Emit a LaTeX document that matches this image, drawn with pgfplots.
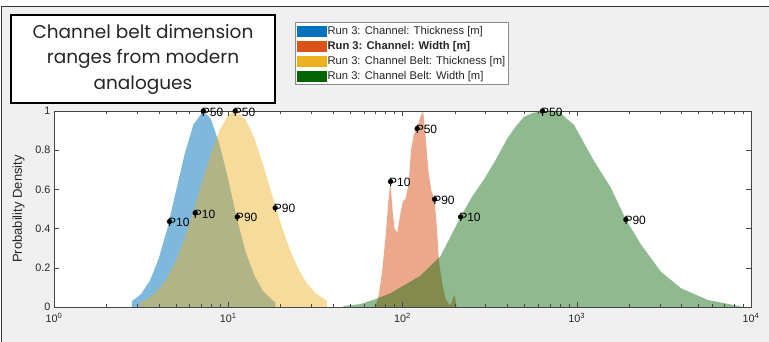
\documentclass[border=0pt]{standalone}
\usepackage{pgfplots}
\pgfplotsset{compat=1.18}
\usepackage{fontspec}
\setmainfont{Liberation Sans}
\newfontfamily\titlefont{Poppins}
\definecolor{mblue}{RGB}{0,114,189}
\definecolor{morange}{RGB}{217,83,25}
\definecolor{myellow}{RGB}{237,177,32}
\definecolor{mgreen}{RGB}{0,100,0}
\definecolor{figbg}{RGB}{240,240,240}
\definecolor{axcol}{RGB}{70,70,70}
\begin{document}
\begin{tikzpicture}
\useasboundingbox (0pt,0pt) rectangle (769pt,342pt);
\fill[white] (0pt,0pt) rectangle (769pt,342pt);
\fill[figbg] (1.5pt,0pt) rectangle (769pt,335pt);
\draw[black!80, line width=1.3pt] (1.2pt,0pt) -- (1.2pt,335.3pt) -- (769pt,335.3pt);
\begin{axis}[
  at={(54pt,35pt)}, anchor=south west,
  scale only axis, width=697pt, height=196pt,
  xmode=log, xmin=1, xmax=10000, ymin=0, ymax=1,
  xtick={1,10,100,1000,10000},
  xticklabels={10\textsuperscript{0},10\textsuperscript{1},10\textsuperscript{2},10\textsuperscript{3},10\textsuperscript{4}},
  ytick={0,0.2,0.4,0.6,0.8,1},
  yticklabels={0,0.2,0.4,0.6,0.8,1},
  ticklabel style={font=\fontsize{10.8}{12}\selectfont, text=black!85},
  xticklabel style={yshift=-3pt},
  major tick length=5pt, minor tick length=3pt,
  axis line style={axcol, line width=0.6pt},
  every tick/.style={axcol, line width=0.5pt},
  axis background/.style={fill=white},
  axis on top, clip=false,
  ylabel={Probability Density},
  ylabel style={font=\fontsize{13}{14}\selectfont, text=black!85, at={(axis description cs:-0.037,0.5)}, anchor=south},
  legend style={at={(0.3458,1.454)}, anchor=north west, draw=black!45, fill=white,
    font=\fontsize{11.2}{12}\selectfont, text=black!85, inner xsep=1.5pt, inner ysep=1pt,
    nodes={inner xsep=1.5pt, inner ysep=2.7pt},
    legend cell align=left},
]
\addlegendimage{legend image code/.code={\fill[mblue] (0pt,-5pt) rectangle (29pt,5pt);}}
\addlegendentry{Run 3: Channel: Thickness [m]}
\addlegendimage{legend image code/.code={\fill[morange] (0pt,-5pt) rectangle (29pt,5pt);}}
\addlegendentry{\textbf{Run 3: Channel: Width [m]}}
\addlegendimage{legend image code/.code={\fill[myellow] (0pt,-5pt) rectangle (29pt,5pt);}}
\addlegendentry{Run 3: Channel Belt: Thickness [m]}
\addlegendimage{legend image code/.code={\fill[mgreen] (0pt,-5pt) rectangle (29pt,5pt);}}
\addlegendentry{Run 3: Channel Belt: Width [m]}

% Channel thickness
\addplot[fill=mblue, fill opacity=0.5, draw=none, forget plot] table {
x y
2.80 0
2.80 0.03
3.16 0.066
3.55 0.134
3.98 0.244
4.47 0.40
5.01 0.59
5.62 0.78
6.31 0.93
7.19 1.00
7.94 0.96
8.91 0.83
10.0 0.65
11.22 0.45
12.59 0.28
14.13 0.16
15.85 0.081
17.78 0.037
18.62 0.025
18.62 0
} \closedcycle;

% Channel width
\addplot[fill=morange, fill opacity=0.5, draw=none, forget plot] table {
x y
70.0 0
73.0 0.06
76.4 0.18
79.8 0.35
83.2 0.55
85.3 0.64
87.6 0.50
89.9 0.40
93.3 0.38
96.1 0.45
100.5 0.54
104.0 0.55
108.2 0.62
112.0 0.80
116.0 0.88
121.3 0.91
126.8 0.97
131.5 1.00
135.6 0.87
141.0 0.69
146.8 0.59
152.8 0.55
157.0 0.42
162.0 0.23
170.0 0.11
177.0 0.04
186.0 0.01
191.0 0.02
196.0 0.05
199.1 0.06
202.0 0.03
204.2 0
} \closedcycle;

% Channel belt thickness
\addplot[fill=myellow, fill opacity=0.45, draw=none, forget plot] table {
x y
3.12 0
3.12 0.024
3.55 0.050
3.98 0.089
4.47 0.149
5.01 0.236
5.62 0.35
6.31 0.487
7.08 0.637
7.94 0.78
8.91 0.90
10.0 0.98
10.96 1.00
12.59 0.956
14.13 0.86
15.85 0.726
17.78 0.576
19.95 0.43
22.39 0.30
25.12 0.198
28.18 0.122
31.62 0.071
36.9 0.031
36.9 0
} \closedcycle;

% Channel belt width
\addplot[fill=mgreen, fill opacity=0.44, draw=none, forget plot] table {
x y
45.8 0
45.8 0.005
57.4 0.015
70.0 0.04
85.3 0.07
97.4 0.10
126.9 0.16
165.3 0.26
188.8 0.36
215.4 0.46
249.5 0.56
293.1 0.65
342.2 0.75
399.9 0.86
445.7 0.92
497.7 0.97
558.5 0.99
635.3 1.00
727.8 1.00
809.1 0.99
876.6 0.96
964.0 0.93
1096 0.84
1256 0.745
1567 0.61
1914 0.446
2333 0.32
3041 0.18
3963 0.096
5636 0.036
7980 0.01
8995 0
} \closedcycle;

% percentile markers
\addplot[only marks, mark=*, mark size=2.4pt, black, forget plot,
  nodes near coords, point meta=explicit symbolic,
  nodes near coords style={anchor=west, inner sep=0pt, xshift=-1.5pt, yshift=-1pt,
    font=\fontsize{12}{13}\selectfont, text=black}]
table[meta=lab] {
x y lab
4.6 0.436 P10
7.19 1.00 P50
11.27 0.46 P90
6.46 0.48 P10
10.96 1.00 P50
18.6 0.506 P90
85.3 0.64 P10
121.3 0.91 P50
152.8 0.55 P90
215.4 0.46 P10
635.3 1.00 P50
1914 0.446 P90
};
\end{axis}
\draw[black, line width=1.5pt, fill=white] (11pt,239pt) rectangle (275pt,327pt);
\node[align=center, font=\titlefont\fontsize{18.5}{25.5}\selectfont, text=black!85] at (143pt,283pt) {Channel belt dimension\\ranges from modern\\analogues};
\end{tikzpicture}
\end{document}
